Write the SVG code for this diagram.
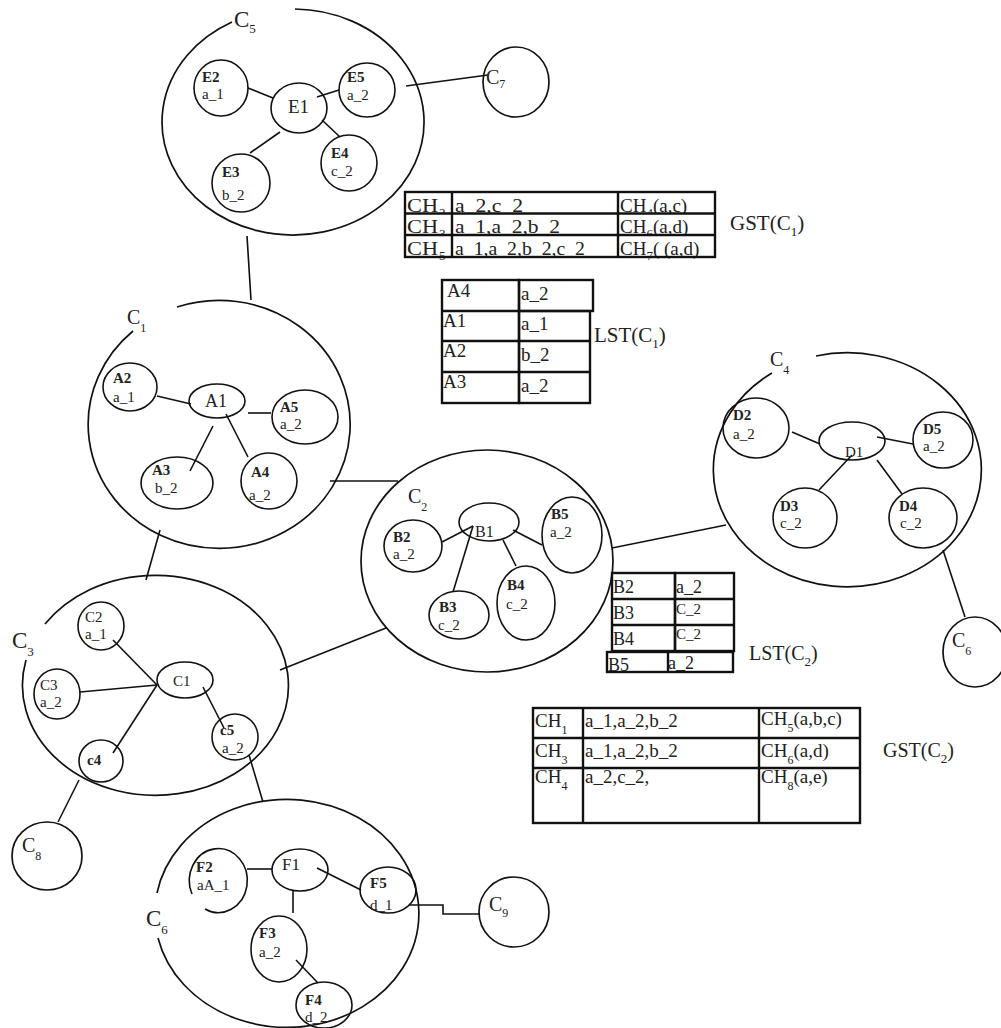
<svg xmlns="http://www.w3.org/2000/svg" width="1001" height="1028" viewBox="0 0 1001 1028">
<style>
  .ring{fill:none;stroke:#111;stroke-width:1.7}
  .nd{fill:none;stroke:#111;stroke-width:1.6}
  .link{fill:none;stroke:#111;stroke-width:1.6}
  .grid{fill:none;stroke:#111;stroke-width:2.4}
  .cell{fill:#fff;stroke:none}
  text{font-family:"Liberation Serif","Times New Roman",serif;fill:#222}
  .cl{font-size:23px}
  .cs{font-size:20px}
  .sub{font-size:12px}
  .csub{font-size:13px}
  .nm{font-weight:bold;font-size:15px}
  .val{font-size:15px}
  .t19{font-size:19px}
  .t18{font-size:18px}
  .t15{font-size:15px}
  .s13{font-size:13px}
</style>

<!-- connectors between nodes and clusters -->
<g id="connectors" class="link">
  <line x1="248" y1="88" x2="273" y2="98"/>
  <line x1="317" y1="97" x2="339" y2="90"/>
  <line x1="280" y1="132" x2="250" y2="153"/>
  <line x1="322" y1="120" x2="340" y2="137"/>
  <line x1="406" y1="86" x2="488" y2="75"/>
  <line x1="247" y1="236" x2="251" y2="300"/>
  <line x1="157" y1="396" x2="191" y2="404"/>
  <line x1="248" y1="413" x2="271" y2="413"/>
  <line x1="213" y1="426" x2="190" y2="471"/>
  <line x1="226" y1="414" x2="248" y2="457"/>
  <line x1="330" y1="481" x2="398" y2="481"/>
  <line x1="160" y1="530" x2="146" y2="580"/>
  <line x1="473" y1="526" x2="442" y2="542"/>
  <line x1="473" y1="526" x2="453" y2="592"/>
  <line x1="503" y1="540" x2="516" y2="566"/>
  <line x1="513" y1="530" x2="542" y2="545"/>
  <line x1="612" y1="548" x2="726" y2="525"/>
  <line x1="280" y1="670" x2="386" y2="628"/>
  <line x1="792" y1="432" x2="820" y2="444"/>
  <line x1="877" y1="437" x2="913" y2="444"/>
  <line x1="852" y1="455" x2="819" y2="490"/>
  <line x1="877" y1="460" x2="902" y2="494"/>
  <line x1="943" y1="550" x2="965" y2="617"/>
  <line x1="113" y1="640" x2="157" y2="685"/>
  <line x1="80" y1="692" x2="157" y2="685"/>
  <line x1="113" y1="753" x2="157" y2="685"/>
  <line x1="203" y1="687" x2="224" y2="728"/>
  <line x1="79" y1="780" x2="58" y2="822"/>
  <line x1="249" y1="755" x2="263" y2="802"/>
  <line x1="247" y1="869" x2="272" y2="869"/>
  <line x1="293" y1="890" x2="293" y2="913"/>
  <line x1="317" y1="868" x2="361" y2="890"/>
  <line x1="296" y1="960" x2="318" y2="983"/>
  <polyline points="409,905 443,905 443,914 480,914"/>
</g>

<!-- cluster C5 -->
<g id="cluster-C5">
  <path class="ring" d="M295,9 A131 113 0 1 1 232,22"/>
  <text class="cl" x="234" y="27">C<tspan class="csub" dy="6">5</tspan></text>
</g>
<g id="E1"><ellipse class="nd" cx="299" cy="108" rx="28" ry="25"/><text x="288" y="113" style="font-size:19px">E1</text></g>
<g id="E2"><ellipse class="nd" cx="221" cy="88" rx="27" ry="28"/><text class="nm" x="202" y="82">E2</text><text class="val" x="202" y="99">a_1</text></g>
<g id="E5"><ellipse class="nd" cx="367" cy="90" rx="28" ry="27"/><text class="nm" x="347" y="82">E5</text><text class="val" x="347" y="100">a_2</text></g>
<g id="E4"><ellipse class="nd" cx="349" cy="163" rx="28" ry="28"/><text class="nm" x="331" y="158">E4</text><text class="val" x="331" y="176">c_2</text></g>
<g id="E3"><ellipse class="nd" cx="241" cy="183" rx="29" ry="29"/><text class="nm" x="222" y="177">E3</text><text class="val" x="222" y="200">b_2</text></g>

<g id="cluster-C7">
  <ellipse class="ring" cx="516" cy="82" rx="33" ry="35"/>
  <text class="cs" x="486" y="84">C<tspan class="sub" dy="4">7</tspan></text>
</g>

<!-- global state table of C1 -->
<g id="GST-C1">
  <rect class="cell" x="405" y="192" width="310" height="21.5"/>
  <text class="t19" x="407" y="211.5" textLength="31" lengthAdjust="spacingAndGlyphs">CH</text>
  <text class="s13" x="439" y="216.5">2</text>
  <text class="t19" x="455" y="211.5" textLength="68" lengthAdjust="spacingAndGlyphs">a_2,c_2</text>
  <text class="t19" x="620" y="211.5">CH<tspan class="s13" dy="5">4</tspan><tspan dy="-5">(a,c)</tspan></text>
  <rect class="cell" x="405" y="213.5" width="310" height="21.5"/>
  <text class="t19" x="407" y="233" textLength="31" lengthAdjust="spacingAndGlyphs">CH</text>
  <text class="s13" x="439" y="238">3</text>
  <text class="t19" x="455" y="233" textLength="105" lengthAdjust="spacingAndGlyphs">a_1,a_2,b_2</text>
  <text class="t19" x="620" y="233">CH<tspan class="s13" dy="5">6</tspan><tspan dy="-5">(a,d)</tspan></text>
  <rect class="cell" x="405" y="235" width="310" height="22"/>
  <text class="t19" x="407" y="255" textLength="31" lengthAdjust="spacingAndGlyphs">CH</text>
  <text class="s13" x="439" y="260">5</text>
  <text class="t19" x="455" y="255" textLength="130" lengthAdjust="spacingAndGlyphs">a_1,a_2,b_2,c_2</text>
  <text class="t19" x="620" y="255">CH<tspan class="s13" dy="5">7</tspan><tspan dy="-5">( (a,d)</tspan></text>
  <rect class="grid" x="405" y="192" width="310" height="65"/>
  <line class="grid" x1="405" y1="213.5" x2="715" y2="213.5"/>
  <line class="grid" x1="405" y1="235" x2="715" y2="235"/>
  <line class="grid" x1="452" y1="192" x2="452" y2="257"/>
  <line class="grid" x1="618" y1="192" x2="618" y2="257"/>
  <text x="730" y="230" style="font-size:21px">GST(C<tspan class="s13" dy="6">1</tspan><tspan dy="-6">)</tspan></text>
</g>

<!-- local state table of C1 -->
<g id="LST-C1">
  <rect class="grid" x="442" y="280" width="77" height="123"/>
  <line class="grid" x1="442" y1="311" x2="519" y2="311"/>
  <line class="grid" x1="442" y1="341" x2="519" y2="341"/>
  <line class="grid" x1="442" y1="372" x2="519" y2="372"/>
  <rect class="grid" x="519" y="280" width="74" height="31"/>
  <rect class="grid" x="519" y="311" width="71" height="92"/>
  <line class="grid" x1="519" y1="341" x2="590" y2="341"/>
  <line class="grid" x1="519" y1="372" x2="590" y2="372"/>
  <text class="t19" x="447" y="297">A4</text>
  <text class="t19" x="521" y="300">a_2</text>
  <text class="t19" x="443" y="327">A1</text>
  <text class="t19" x="521" y="330">a_1</text>
  <text class="t19" x="443" y="357">A2</text>
  <text class="t19" x="521" y="361">b_2</text>
  <text class="t19" x="443" y="388">A3</text>
  <text class="t19" x="521" y="392">a_2</text>
  <text x="594" y="342" style="font-size:21px">LST(C<tspan class="s13" dy="6">1</tspan><tspan dy="-6">)</tspan></text>
</g>

<!-- cluster C1 -->
<g id="cluster-C1">
  <path class="ring" d="M177,307 A131 124 0 1 1 133,331"/>
  <text class="cs" x="127" y="324">C<tspan class="sub" dy="8">1</tspan></text>
</g>
<g id="A1"><ellipse class="nd" cx="217" cy="401" rx="28" ry="17"/><text x="205" y="407" style="font-size:18px">A1</text></g>
<g id="A2"><ellipse class="nd" cx="130" cy="387" rx="27" ry="24"/><text class="nm" x="113" y="383">A2</text><text class="val" x="113" y="402">a_1</text></g>
<g id="A5"><ellipse class="nd" cx="305" cy="417" rx="33" ry="27"/><text class="nm" x="280" y="412">A5</text><text class="val" x="280" y="429">a_2</text></g>
<g id="A3"><ellipse class="nd" cx="177" cy="483" rx="36" ry="26"/><text class="nm" x="152" y="475">A3</text><text class="val" x="155" y="493">b_2</text></g>
<g id="A4"><ellipse class="nd" cx="269" cy="481" rx="28" ry="28"/><text class="nm" x="251" y="477">A4</text><text class="val" x="249" y="500">a_2</text></g>

<!-- cluster C2 -->
<g id="cluster-C2">
  <ellipse class="ring" cx="487" cy="561" rx="126" ry="111"/>
  <text class="cs" x="408" y="503">C<tspan class="sub" dy="8">2</tspan></text>
</g>
<g id="B1"><ellipse class="nd" cx="489" cy="522" rx="30" ry="19"/><text x="475" y="537" style="font-size:16px">B1</text></g>
<g id="B2"><ellipse class="nd" cx="413" cy="546" rx="29" ry="26"/><text class="nm" x="393" y="542">B2</text><text class="val" x="393" y="559">a_2</text></g>
<g id="B5"><ellipse class="nd" cx="572" cy="535" rx="30" ry="38"/><text class="nm" x="551" y="519">B5</text><text class="val" x="550" y="537">a_2</text></g>
<g id="B4"><ellipse class="nd" cx="526" cy="603" rx="29" ry="37"/><text class="nm" x="507" y="590">B4</text><text class="val" x="506" y="609">c_2</text></g>
<g id="B3"><ellipse class="nd" cx="459" cy="615" rx="30" ry="24"/><text class="nm" x="439" y="612">B3</text><text class="val" x="438" y="630">c_2</text></g>

<!-- cluster C4 -->
<g id="cluster-C4">
  <path class="ring" d="M816,356 A134 117 0 1 1 772,373"/>
  <text class="cs" x="770" y="366">C<tspan class="sub" dy="8">4</tspan></text>
</g>
<g id="D1"><ellipse class="nd" cx="852" cy="441" rx="33" ry="19"/><text x="845" y="457" style="font-size:15px">D1</text></g>
<g id="D2"><ellipse class="nd" cx="756" cy="428" rx="33" ry="30"/><text class="nm" x="733" y="420">D2</text><text class="val" x="733" y="439">a_2</text></g>
<g id="D5"><ellipse class="nd" cx="943" cy="440" rx="30" ry="28"/><text class="nm" x="923" y="434">D5</text><text class="val" x="923" y="451">a_2</text></g>
<g id="D3"><ellipse class="nd" cx="805" cy="518" rx="32" ry="30"/><text class="nm" x="780" y="511">D3</text><text class="val" x="780" y="528">c_2</text></g>
<g id="D4"><ellipse class="nd" cx="923" cy="518" rx="34" ry="30"/><text class="nm" x="899" y="511">D4</text><text class="val" x="900" y="528">c_2</text></g>

<g id="cluster-C6-right">
  <ellipse class="ring" cx="975" cy="652" rx="32" ry="35"/>
  <text class="cs" x="952" y="647">C<tspan class="sub" dy="8">6</tspan></text>
</g>

<!-- local state table of C2 -->
<g id="LST-C2">
  <rect class="grid" x="612" y="573" width="63" height="78"/>
  <rect class="grid" x="675" y="573" width="59" height="78"/>
  <line class="grid" x1="612" y1="599" x2="734" y2="599"/>
  <line class="grid" x1="612" y1="625" x2="734" y2="625"/>
  <rect class="grid" x="607" y="652" width="126" height="20"/>
  <line class="grid" x1="668" y1="652" x2="668" y2="672"/>
  <text class="t18" x="613" y="593">B2</text>
  <text class="t18" x="676" y="593">a_2</text>
  <text class="t18" x="613" y="619">B3</text>
  <text class="t15" x="676" y="614">C_2</text>
  <text class="t18" x="613" y="645">B4</text>
  <text class="t15" x="676" y="639">C_2</text>
  <text class="t18" x="608" y="671">B5</text>
  <text class="t18" x="668" y="669">a_2</text>
  <text x="749" y="660" style="font-size:20px">LST(C<tspan class="s13" dy="6">2</tspan><tspan dy="-6">)</tspan></text>
</g>

<!-- global state table of C2 -->
<g id="GST-C2">
  <rect class="grid" x="533" y="708" width="327" height="115"/>
  <line class="grid" x1="533" y1="738" x2="860" y2="738"/>
  <line class="grid" x1="533" y1="768" x2="860" y2="768"/>
  <line class="grid" x1="583" y1="708" x2="583" y2="823"/>
  <line class="grid" x1="759" y1="708" x2="759" y2="823"/>
  <text class="t19" x="535" y="727">CH<tspan class="sub" dy="7">1</tspan></text>
  <text class="t19" x="585" y="727">a_1,a_2,b_2</text>
  <text class="t19" x="761" y="725">CH<tspan class="sub" dy="7">5</tspan><tspan dy="-7">(a,b,c)</tspan></text>
  <text class="t19" x="535" y="757">CH<tspan class="sub" dy="7">3</tspan></text>
  <text class="t19" x="585" y="757">a_1,a_2,b_2</text>
  <text class="t19" x="761" y="757">CH<tspan class="sub" dy="7">6</tspan><tspan dy="-7">(a,d)</tspan></text>
  <text class="t19" x="535" y="783">CH<tspan class="sub" dy="7">4</tspan></text>
  <text class="t19" x="585" y="783">a_2,c_2,</text>
  <text class="t19" x="761" y="783">CH<tspan class="sub" dy="7">8</tspan><tspan dy="-7">(a,e)</tspan></text>
  <text x="883" y="757" style="font-size:20px">GST(C<tspan class="s13" dy="6">2</tspan><tspan dy="-6">)</tspan></text>
</g>

<!-- cluster C3 -->
<g id="cluster-C3">
  <path class="ring" d="M45,624 A133 110 0 1 1 26,660"/>
  <text class="cl" x="12" y="648">C<tspan class="csub" dy="8">3</tspan></text>
</g>
<g id="C1"><ellipse class="nd" cx="185" cy="680" rx="28" ry="18"/><text x="173" y="686" style="font-size:15px">C1</text></g>
<g id="C2"><ellipse class="nd" cx="101" cy="626" rx="23" ry="24"/><text class="val" x="85" y="622">C2</text><text class="val" x="85" y="639">a_1</text></g>
<g id="C3"><ellipse class="nd" cx="57" cy="694" rx="23" ry="25"/><text class="val" x="40" y="690">C3</text><text class="val" x="40" y="707">a_2</text></g>
<g id="c4"><ellipse class="nd" cx="101" cy="761" rx="22" ry="21"/><text class="nm" x="87" y="765">c4</text></g>
<g id="c5"><ellipse class="nd" cx="235" cy="737" rx="23" ry="23"/><text class="nm" x="220" y="735">c5</text><text class="val" x="222" y="753">a_2</text></g>

<g id="cluster-C8">
  <ellipse class="ring" cx="47" cy="856" rx="35" ry="34"/>
  <text class="cs" x="22" y="852">C<tspan class="sub" dy="8">8</tspan></text>
</g>

<!-- cluster C6 -->
<g id="cluster-C6">
  <path class="ring" d="M157,893 A132 114 0 1 1 158,938"/>
  <text class="cl" x="146" y="926">C<tspan class="csub" dy="8">6</tspan></text>
</g>
<g id="F1"><ellipse class="nd" cx="300" cy="870" rx="28" ry="21"/><text x="282" y="870" style="font-size:17px">F1</text></g>
<g id="F2"><path class="nd" d="M205,909 A29 32 0 1 0 192,894"/><text class="nm" x="196" y="872">F2</text><text class="val" x="197" y="890">aA_1</text></g>
<g id="F5"><ellipse class="nd" cx="388" cy="890" rx="28" ry="23"/><text class="nm" x="370" y="888">F5</text><text class="val" x="370" y="910">d_1</text></g>
<g id="F3"><ellipse class="nd" cx="279" cy="949" rx="28" ry="33"/><text class="nm" x="259" y="938">F3</text><text class="val" x="259" y="957">a_2</text></g>
<g id="F4"><ellipse class="nd" cx="324" cy="1005" rx="28" ry="23"/><text class="nm" x="305" y="1005">F4</text><text class="val" x="305" y="1022">d_2</text></g>

<g id="cluster-C9">
  <ellipse class="ring" cx="514" cy="912" rx="35" ry="35"/>
  <text class="cs" x="489" y="911">C<tspan class="sub" dy="6">9</tspan></text>
</g>
</svg>
